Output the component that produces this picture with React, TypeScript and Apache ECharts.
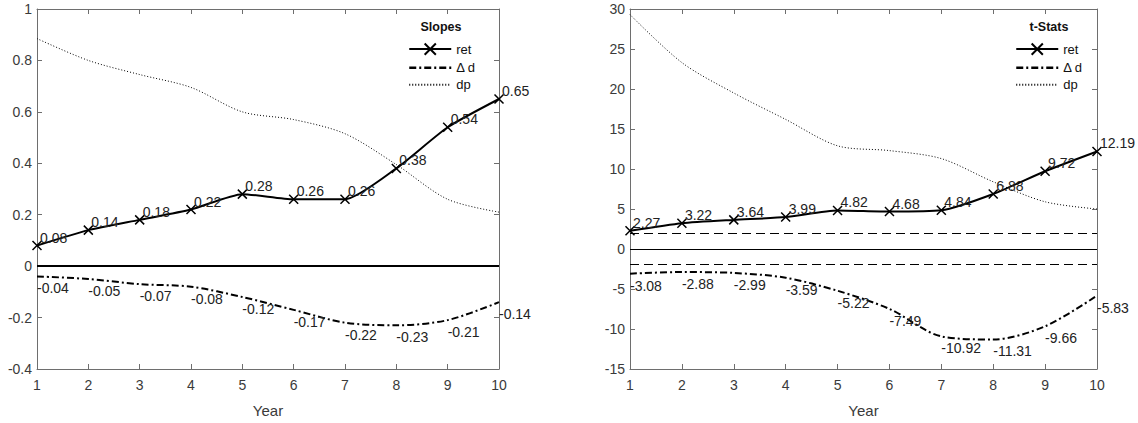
import { useEffect, useRef } from "react";
import * as echarts from "echarts";

// Horizon (years) shared by both panels
const years = [1, 2, 3, 4, 5, 6, 7, 8, 9, 10];

// Slope estimates
const slopeRet = [0.08, 0.14, 0.18, 0.22, 0.28, 0.26, 0.26, 0.38, 0.54, 0.65];
const slopeDd = [-0.04, -0.05, -0.07, -0.08, -0.12, -0.17, -0.22, -0.23, -0.21, -0.14];
const slopeDp = [0.885, 0.8, 0.745, 0.695, 0.6, 0.57, 0.515, 0.395, 0.26, 0.21];

// t-statistics
const tRet = [2.27, 3.22, 3.64, 3.99, 4.82, 4.68, 4.84, 6.88, 9.72, 12.19];
const tDd = [-3.08, -2.88, -2.99, -3.59, -5.22, -7.49, -10.92, -11.31, -9.66, -5.83];
const tDp = [29.3, 23.3, 19.5, 16.2, 12.9, 12.3, 11.3, 8.4, 5.9, 5.0];

// Significance bands for the t-stats panel
const critical = 1.96;

const FONT = "Liberation Sans, Arial, Helvetica, sans-serif";
const AXIS_COLOR = "#6e6e6e";
const TEXT_COLOR = "#3a3a3a";
const CROSS = "path://M0,0L10,10M0,10L10,0";
const DASH_DOT = [7, 3, 2, 3];

const pairs = (ys: number[]) => years.map((x, i) => [x, ys[i]]);
const fmt = (p: any) => Number(p.value[1]).toFixed(2);

function frameAxes(gridIndex: number, min: number, max: number, interval: number) {
  const tick = { show: true, inside: true, length: 5, lineStyle: { color: AXIS_COLOR, width: 1 } };
  const line = { show: true, onZero: false, lineStyle: { color: AXIS_COLOR, width: 1 } };
  const xAxis = [
    {
      type: "value",
      gridIndex,
      min: 1,
      max: 10,
      interval: 1,
      position: "bottom",
      axisLine: line,
      axisTick: tick,
      splitLine: { show: false },
      axisLabel: { color: TEXT_COLOR, fontFamily: FONT, fontSize: 14, margin: 9 },
      name: "Year",
      nameLocation: "middle",
      nameGap: 34,
      nameTextStyle: { color: TEXT_COLOR, fontFamily: FONT, fontSize: 15 },
    },
    {
      type: "value",
      gridIndex,
      min: 1,
      max: 10,
      interval: 1,
      position: "top",
      axisLine: line,
      axisTick: tick,
      splitLine: { show: false },
      axisLabel: { show: false },
    },
  ];
  const yAxis = [
    {
      type: "value",
      gridIndex,
      min,
      max,
      interval,
      position: "left",
      axisLine: line,
      axisTick: tick,
      splitLine: { show: false },
      axisLabel: { color: TEXT_COLOR, fontFamily: FONT, fontSize: 14, margin: 5 },
    },
    {
      type: "value",
      gridIndex,
      min,
      max,
      interval,
      position: "right",
      axisLine: line,
      axisTick: tick,
      splitLine: { show: false },
      axisLabel: { show: false },
    },
  ];
  return { xAxis, yAxis };
}

function panelSeries(
  axisIndex: number,
  ret: number[],
  dd: number[],
  dp: number[],
  refLines: any[]
) {
  const labelStyle = { color: "#222", fontFamily: FONT, fontSize: 14 };
  return [
    {
      name: "ret",
      type: "line",
      xAxisIndex: axisIndex,
      yAxisIndex: axisIndex,
      data: pairs(ret),
      smooth: 0.2,
      symbol: CROSS,
      symbolSize: 9,
      itemStyle: { color: "none", borderColor: "#000", borderWidth: 1.5 },
      lineStyle: { color: "#000", width: 2 },
      label: {
        show: true,
        position: "right",
        distance: 0,
        offset: [-4, -8],
        formatter: fmt,
        ...labelStyle,
      },
      z: 4,
    },
    {
      name: "Δ d",
      type: "line",
      xAxisIndex: axisIndex,
      yAxisIndex: axisIndex,
      data: pairs(dd),
      smooth: 0.3,
      symbol: "circle",
      symbolSize: 2,
      itemStyle: { color: "rgba(0,0,0,0)", borderWidth: 0 },
      lineStyle: { color: "#000", width: 2, type: DASH_DOT },
      label: {
        show: true,
        position: "right",
        distance: 0,
        offset: [-1, 12],
        formatter: fmt,
        ...labelStyle,
      },
      z: 3,
    },
    {
      name: "dp",
      type: "line",
      xAxisIndex: axisIndex,
      yAxisIndex: axisIndex,
      data: pairs(dp),
      smooth: 0.3,
      symbol: "none",
      itemStyle: { color: "rgba(0,0,0,0)" },
      lineStyle: { color: "#000", width: 1, type: [1, 2] },
      markLine: {
        silent: true,
        symbol: "none",
        label: { show: false },
        data: refLines,
      },
      z: 2,
    },
  ];
}

function legendBlock(left: number, titleX: number, title: string) {
  return {
    legend: {
      orient: "vertical",
      left,
      top: 41,
      padding: 0,
      itemWidth: 42,
      itemHeight: 14,
      itemGap: 4,
      selectedMode: false,
      textStyle: { color: "#111", fontFamily: FONT, fontSize: 13 },
      data: [
        { name: "ret" },
        { name: "Δ d", lineStyle: { width: 2.5, type: DASH_DOT, color: "#000" } },
        { name: "dp", itemStyle: { color: "rgba(0,0,0,0)", borderWidth: 0 } },
      ],
    },
    title: {
      type: "text",
      x: titleX,
      y: 27,
      style: {
        text: title,
        fill: "#111",
        font: `bold 12.5px ${FONT}`,
        textAlign: "center",
        textVerticalAlign: "middle",
      },
    },
  };
}

export default function App() {
  const ref = useRef<HTMLDivElement>(null);

  useEffect(() => {
    if (!ref.current) return;
    const chart = echarts.init(ref.current, undefined, { renderer: "svg" });

    const left = frameAxes(0, -0.4, 1, 0.2);
    const right = frameAxes(1, -15, 30, 5);

    const slopesZero = [{ yAxis: 0, lineStyle: { color: "#000", width: 2, type: "solid" } }];
    const tZero = [
      { yAxis: 0, lineStyle: { color: "#000", width: 1, type: "solid" } },
      { yAxis: critical, lineStyle: { color: "#000", width: 1, type: [9, 5] } },
      { yAxis: -critical, lineStyle: { color: "#000", width: 1, type: [9, 5] } },
    ];

    const lg1 = legendBlock(408, 441, "Slopes");
    const lg2 = legendBlock(1015, 1049, "t-Stats");

    chart.setOption({
      animation: false,
      backgroundColor: "#fff",
      grid: [
        { left: 37, top: 9, width: 462, height: 366 },
        { left: 630, top: 9, width: 467, height: 366 },
      ],
      xAxis: [...left.xAxis, ...right.xAxis],
      yAxis: [...left.yAxis, ...right.yAxis],
      legend: [lg1.legend, lg2.legend],
      graphic: [lg1.title, lg2.title],
      series: [
        ...panelSeries(0, slopeRet, slopeDd, slopeDp, slopesZero),
        ...panelSeries(2, tRet, tDd, tDp, tZero),
      ],
    });

    return () => chart.dispose();
  }, []);

  return (
    <div
      ref={ref}
      style={{ position: "fixed", left: 0, top: 0, width: 1138, height: 423, background: "#fff" }}
    />
  );
}
